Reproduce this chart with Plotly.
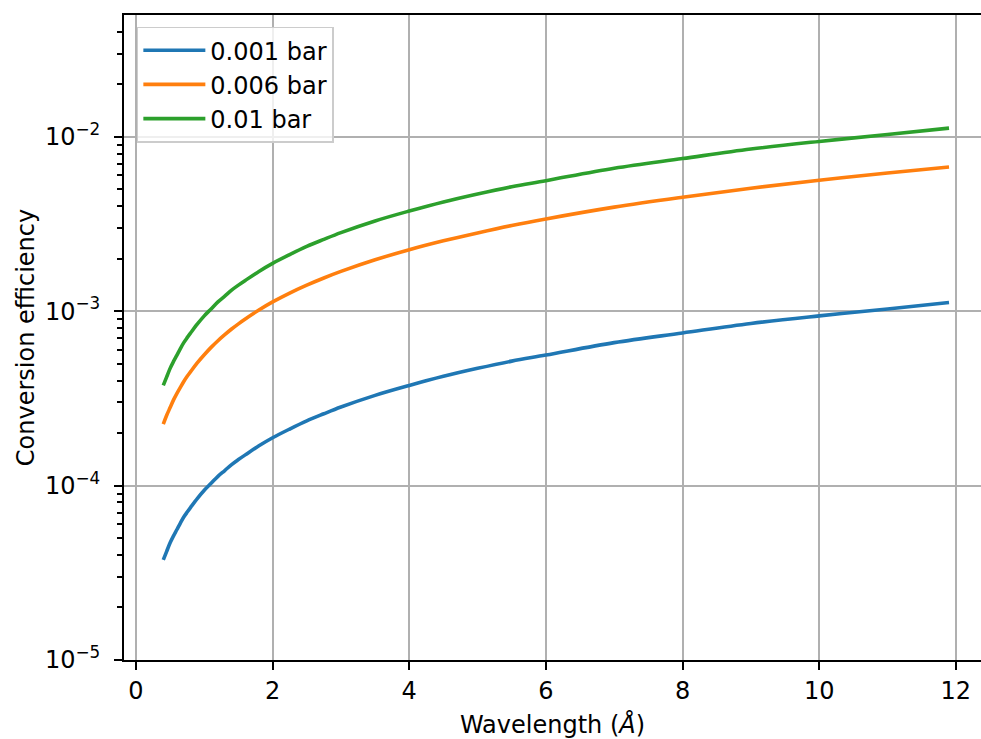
import plotly.graph_objects as go

wavelength = [0.4, 0.45, 0.5, 0.55, 0.6, 0.65, 0.7, 0.75, 0.8, 0.9, 1.0, 1.1, 1.2, 1.3, 1.4,
              1.5, 1.6, 1.8, 2.0, 2.25, 2.5, 2.75, 3.0, 3.5, 4.0, 4.5, 5.0, 5.5, 6.0, 7.0,
              8.0, 9.0, 10.0, 11.0, 11.9]
eff_0001 = [3.75e-5, 4.2e-5, 4.7e-5, 5.15e-5, 5.6e-5, 6.1e-5, 6.6e-5, 7.05e-5, 7.5e-5, 8.45e-5,
            9.4e-5, 1.03e-4, 1.13e-4, 1.22e-4, 1.32e-4, 1.41e-4, 1.5e-4, 1.69e-4, 1.88e-4,
            2.11e-4, 2.35e-4, 2.58e-4, 2.82e-4, 3.29e-4, 3.75e-4, 4.23e-4, 4.7e-4, 5.17e-4,
            5.6e-4, 6.6e-4, 7.5e-4, 8.5e-4, 9.4e-4, 1.03e-3, 1.12e-3]
eff_0006 = [2.25e-4, 2.53e-4, 2.8e-4, 3.1e-4, 3.38e-4, 3.66e-4, 3.95e-4, 4.23e-4, 4.5e-4, 5.07e-4,
            5.63e-4, 6.2e-4, 6.77e-4, 7.33e-4, 7.9e-4, 8.46e-4, 9.02e-4, 1.015e-3, 1.13e-3,
            1.27e-3, 1.41e-3, 1.55e-3, 1.69e-3, 1.97e-3, 2.25e-3, 2.53e-3, 2.81e-3, 3.1e-3,
            3.38e-3, 3.95e-3, 4.5e-3, 5.07e-3, 5.63e-3, 6.2e-3, 6.7e-3]
eff_001 = [3.75e-4, 4.2e-4, 4.7e-4, 5.15e-4, 5.6e-4, 6.1e-4, 6.6e-4, 7.05e-4, 7.5e-4, 8.45e-4,
           9.4e-4, 1.03e-3, 1.13e-3, 1.22e-3, 1.32e-3, 1.41e-3, 1.5e-3, 1.69e-3, 1.88e-3,
           2.11e-3, 2.35e-3, 2.58e-3, 2.82e-3, 3.29e-3, 3.75e-3, 4.23e-3, 4.7e-3, 5.17e-3,
           5.6e-3, 6.6e-3, 7.5e-3, 8.5e-3, 9.4e-3, 1.03e-2, 1.12e-2]
series_names = ["0.001 bar", "0.006 bar", "0.01 bar"]
series_colors = ["#1f77b4", "#ff7f0e", "#2ca02c"]
x_ticks = [0, 2, 4, 6, 8, 10, 12]
y_ticks = [1e-5, 1e-4, 1e-3, 1e-2]
y_ticktext = ["10<sup>−5</sup>", "10<sup>−4</sup>", "10<sup>−3</sup>", "10<sup>−2</sup>"]

FONT = "DejaVu Sans"
FS = 24

fig = go.Figure()
for name, ys, col in zip(series_names, [eff_0001, eff_0006, eff_001], series_colors):
    fig.add_trace(go.Scatter(x=wavelength, y=ys, mode="lines", name=name, legendgroup=name,
                             line=dict(color=col, width=3.6, shape="spline", smoothing=1)))

fig.update_layout(
    width=981, height=739,
    margin=dict(l=124, r=0, t=15, b=79),
    plot_bgcolor="white", paper_bgcolor="white",
    font=dict(family=FONT, size=FS, color="black"),
    showlegend=True,
    legend=dict(x=0.015, y=0.982, xanchor="left", yanchor="top",
                bgcolor="rgba(255,255,255,0.8)", bordercolor="#cccccc", borderwidth=1.5,
                tracegroupgap=0, itemwidth=62,
                font=dict(family=FONT, size=FS)),
    xaxis=dict(range=[-0.175, 12.368], tickvals=x_ticks, ticktext=[str(v) for v in x_ticks],
               showgrid=True, gridcolor="#b0b0b0", gridwidth=1.9,
               showline=True, linecolor="black", linewidth=2, mirror=True,
               ticks="outside", ticklen=8, tickwidth=2, tickcolor="black",
               zeroline=False,
               title=dict(text="Wavelength (<i>Å</i>)", font=dict(family=FONT, size=FS), standoff=12)),
    yaxis=dict(type="log", range=[-5, -1.302], tickvals=y_ticks, ticktext=y_ticktext,
               showgrid=True, gridcolor="#b0b0b0", gridwidth=1.9,
               showline=True, linecolor="black", linewidth=2,
               ticks="outside", ticklen=8, tickwidth=2, tickcolor="black",
               ticklabelstandoff=9,
               minor=dict(ticks="outside", ticklen=5, tickwidth=1.5, tickcolor="black",
                          dtick="D1", showgrid=False),
               zeroline=False,
               title=dict(text="Conversion efficiency", font=dict(family=FONT, size=FS), standoff=4)),
)

fig.write_html("out.html")
